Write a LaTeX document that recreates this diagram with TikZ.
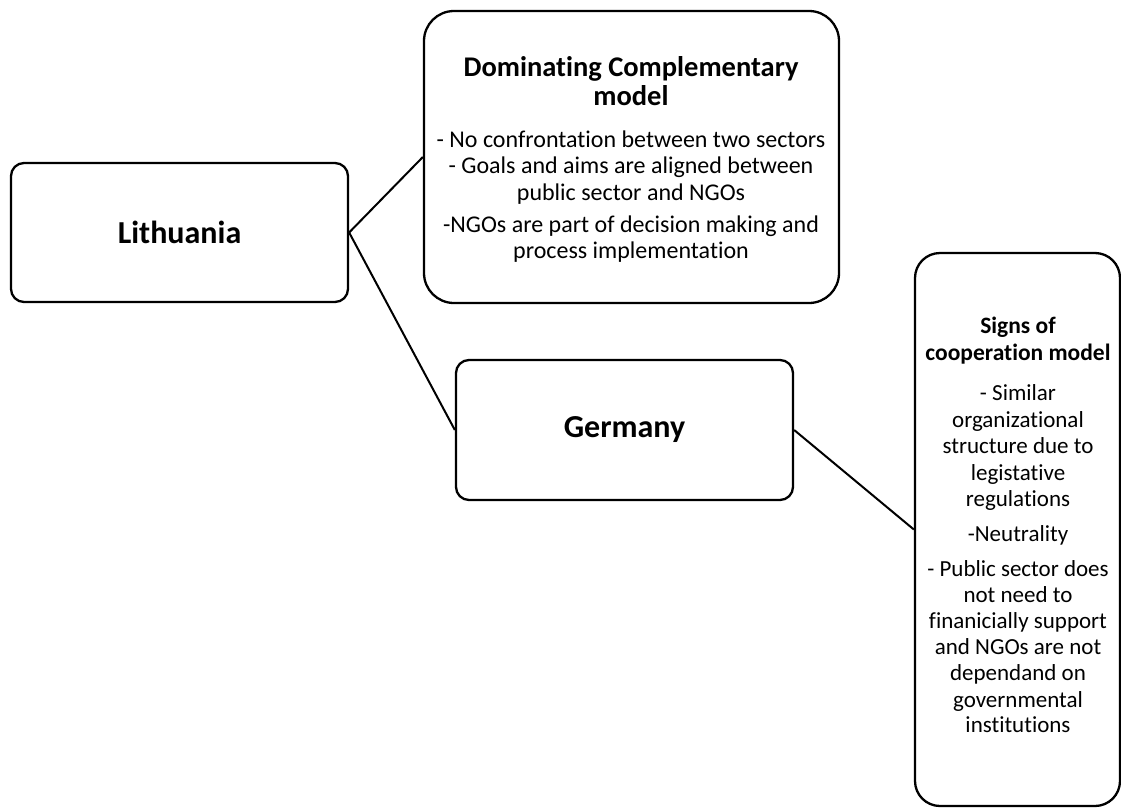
\documentclass[tikz,border=0pt]{standalone}
\usepackage{fontspec}
\setmainfont[Ligatures=CommonOff]{Carlito}
\begin{document}
\begin{tikzpicture}[x=1pt,y=-1pt,
  box/.style={draw, line width=2.3pt, rounded corners=#1, inner sep=0pt},
  link/.style={line width=2pt},
  country/.style={font=\bfseries\fontsize{32}{38}\selectfont},
  textline/.style={anchor=base, inner sep=0pt},
  domhead/.style={textline, font=\bfseries\fontsize{28.5}{34}\selectfont},
  dombody/.style={textline, font=\fontsize{24}{29}\selectfont},
  sighead/.style={textline, font=\bfseries\fontsize{23.5}{28}\selectfont},
  sigbody/.style={textline, font=\fontsize{23}{28}\selectfont}]
\useasboundingbox (0,0) rectangle (1121,809);

% boxes
\node[box=13pt, country, minimum width=337pt, minimum height=139pt] (lit) at (179.5,232.5) {Lithuania};
\node[box=30pt, minimum width=415pt, minimum height=292pt] (dom) at (631.5,157) {};
\node[box=13pt, country, minimum width=337pt, minimum height=140pt] (ger) at (624.5,430) {Germany};
\node[box=25pt, minimum width=205pt, minimum height=553pt] (sig) at (1017.5,529.5) {};

% text of the complementary-model box, one line per node
\foreach \y/\s/\t [count=\i] in {
    76/domhead/Dominating Complementary,
    105/domhead/model,
    147/dombody/- No confrontation between two sectors,
    173/dombody/- Goals and aims are aligned between,
    200/dombody/public sector and NGOs,
    232/dombody/-NGOs are part of decision making and,
    258/dombody/process implementation}
  \node[\s] (dl\i) at (631,\y) {\t};

% text of the cooperation-model box
\foreach \y/\s/\t [count=\i] in {
    333/sighead/Signs of,
    360/sighead/cooperation model,
    400/sigbody/- Similar,
    427/sigbody/organizational,
    453/sigbody/structure due to,
    480/sigbody/legistative,
    506/sigbody/regulations,
    541/sigbody/-Neutrality,
    576/sigbody/- Public sector does,
    602/sigbody/not need to,
    628/sigbody/finanicially support,
    654/sigbody/and NGOs are not,
    680/sigbody/dependand on,
    707/sigbody/governmental,
    732/sigbody/institutions}
  \node[\s] (sl\i) at (1018,\y) {\t};

% connectors
\draw[link] (lit.east) -- (dom.west);
\draw[link] (lit.east) -- (ger.west);
\draw[link] (ger.east) -- (sig.west);
\end{tikzpicture}
\end{document}
